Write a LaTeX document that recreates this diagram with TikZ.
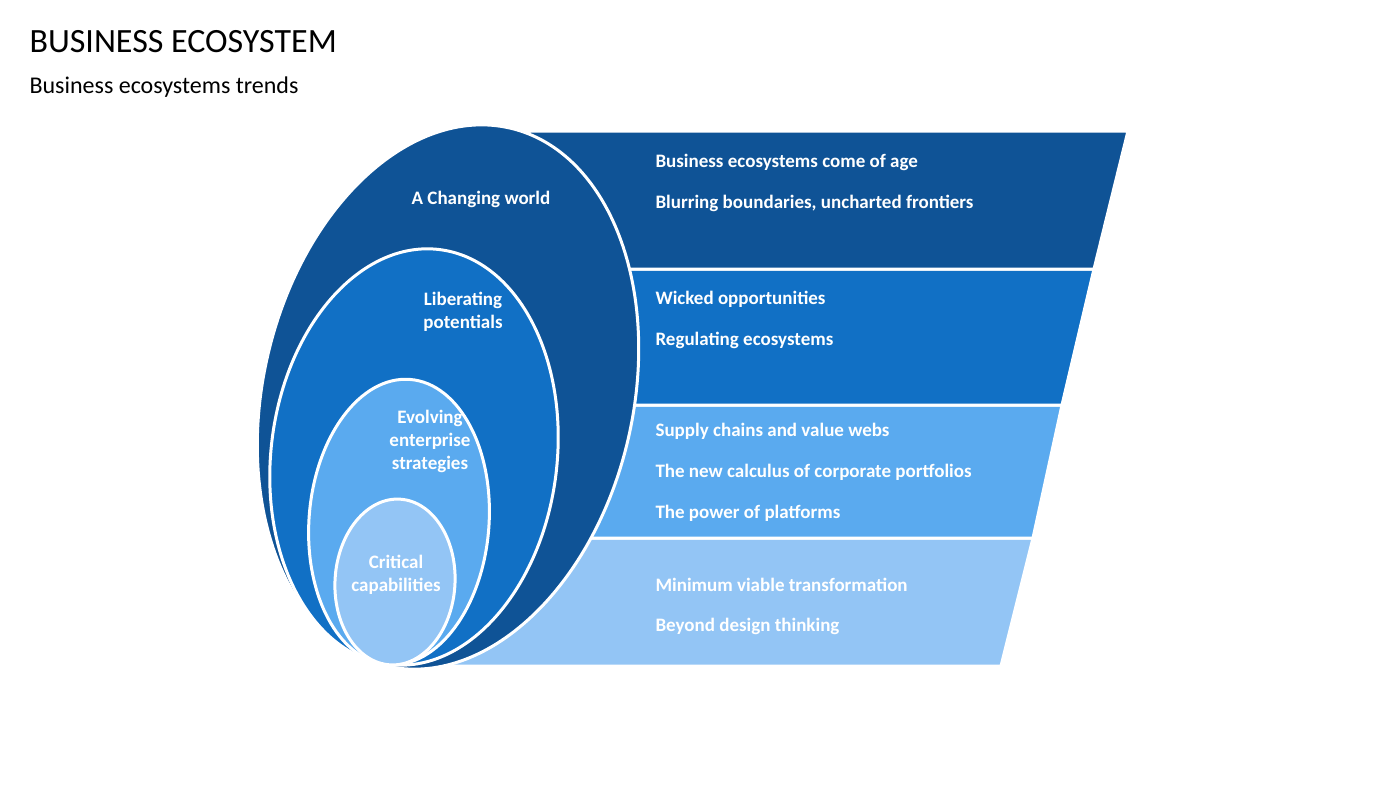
\documentclass[tikz,border=0pt]{standalone}
\usepackage{fontspec}
\setmainfont{Carlito}
\definecolor{cA}{HTML}{0F5396}
\definecolor{cB}{HTML}{1170C5}
\definecolor{cC}{HTML}{5AAAEF}
\definecolor{cD}{HTML}{93C5F5}
\begin{document}
\begin{tikzpicture}[x=1pt,y=-1pt,
  band/.style={draw=white,line width=3pt},
  ell/.style={draw=white,line width=3pt},
  btxt/.style={anchor=west,text=white,font=\fontsize{19}{22}\selectfont\bfseries},
  etxt/.style={text=white,align=center,font=\fontsize{19}{23}\selectfont\bfseries}]
\useasboundingbox[fill=white] (0,0) rectangle (1400,788);
\node[anchor=west,font=\fontsize{34}{40}\selectfont] (title) at (26,42) {BUSINESS ECOSYSTEM};
\node[anchor=west,font=\fontsize{24}{28}\selectfont] (sub) at (26,87) {Business ecosystems trends};
% bands
\filldraw[band,fill=cD] (395,538) -- (1033,538) -- (1001,666) -- (440,666) -- cycle;
\filldraw[band,fill=cC] (395,405) -- (1062,405) -- (1033,538) -- (395,538) -- cycle;
\filldraw[band,fill=cB] (420,269) -- (1094,269) -- (1062,405) -- (395,405) -- cycle;
\filldraw[band,fill=cA] (530,131) -- (1128,131) -- (1094,269) -- (420,269) -- cycle;
% ellipses
\filldraw[ell,fill=cA,rotate around={-13:(448,397)}] (448,397) ellipse [x radius=185,y radius=276];
\filldraw[ell,fill=cB,rotate around={-7:(414,457)}] (414,457) ellipse [x radius=143,y radius=209];
\filldraw[ell,fill=cC,rotate around={-4.4:(399,522)}] (399,522) ellipse [x radius=90,y radius=143];
\filldraw[ell,fill=cD,rotate around={-3.5:(395,582)}] (395,582) ellipse [x radius=60,y radius=83];
% ellipse labels
\node[etxt] (e1) at (481,199) {A Changing world};
\node[etxt] (e2) at (463,312) {Liberating\\potentials};
\node[etxt] (e3) at (430,441) {Evolving\\enterprise\\strategies};
\node[etxt] (e4) at (396,575) {Critical\\capabilities};
% band texts
\node[btxt] (t1) at (652,162) {Business ecosystems come of age};
\node[btxt] (t2) at (652,203) {Blurring boundaries, uncharted frontiers};
\node[btxt] (t3) at (652,299) {Wicked opportunities};
\node[btxt] (t4) at (652,340) {Regulating ecosystems};
\node[btxt] (t5) at (652,431) {Supply chains and value webs};
\node[btxt] (t6) at (652,472) {The new calculus of corporate portfolios};
\node[btxt] (t7) at (652,513) {The power of platforms};
\node[btxt] (t8) at (652,585) {Minimum viable transformation};
\node[btxt] (t9) at (652,626) {Beyond design thinking};
\end{tikzpicture}
\end{document}
